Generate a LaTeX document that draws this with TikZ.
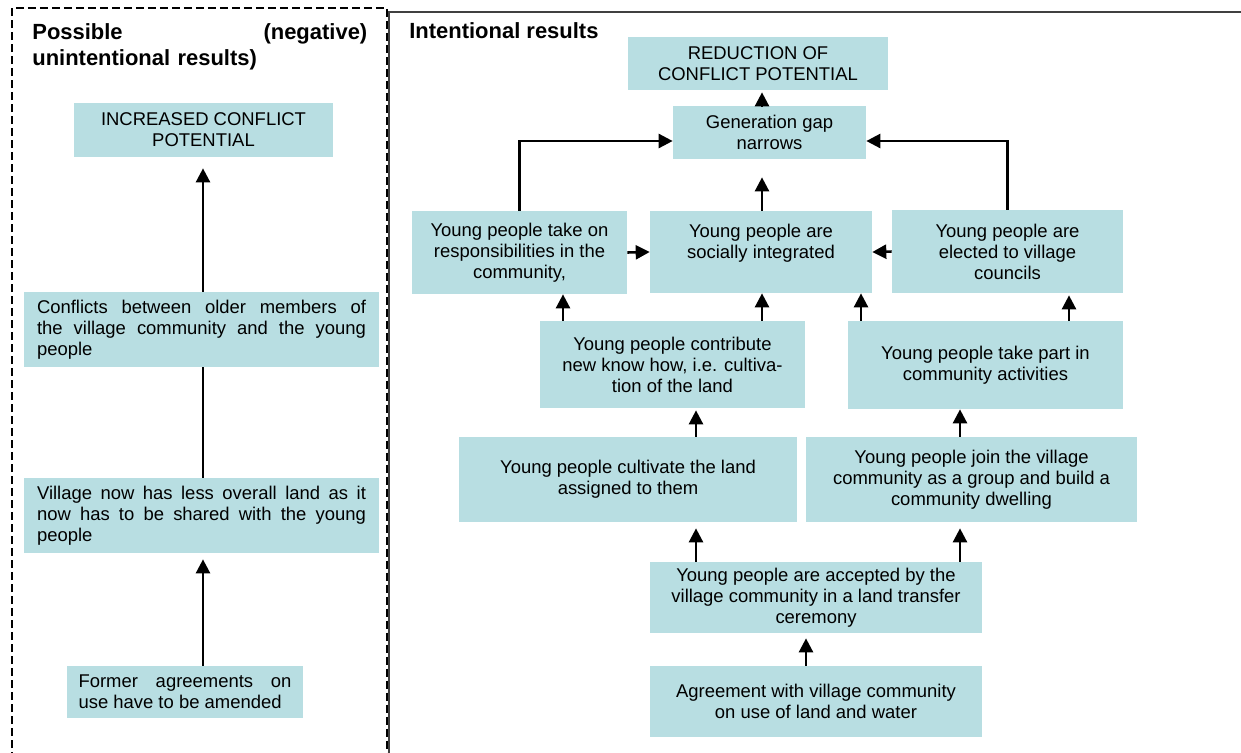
\documentclass[tikz,border=0pt]{standalone}
\usepackage{fontspec}
\setmainfont{Liberation Sans}
\usetikzlibrary{arrows.meta}
\definecolor{boxfill}{RGB}{184,222,226}
\definecolor{framegray}{RGB}{64,64,64}
\hbadness=10000

\begin{document}
\begin{tikzpicture}[x=0.02cm, y=-0.02cm,
    box/.style={fill=boxfill, inner sep=0pt, align=center,
        font=\fontsize{10.5}{12}\selectfont},
    jbox/.style={box, align=justify},
    headtext/.style={inner sep=0pt, font=\fontsize{12.5}{14.8}\selectfont\bfseries},
    arr/.style={line width=1.45pt, -{Triangle[length=0.28cm, width=0.28cm]}},
    link/.style={line width=1.45pt}]
    \useasboundingbox (0,0) rectangle (1241,752);

    \draw[dash pattern=on 0.16cm off 0.08cm, line width=0.8pt] (12,760) -- (12,8) -- (387,8) -- (387,760);
    \draw[framegray, line width=1.1pt] (389,760) -- (389,12) -- (1245,12);

    \node[headtext, text width=6.7cm, align=left, anchor=north west] (ltitle) at (32,23) {Possible\hfill(negative)\\unintentional results)};
    \node[headtext, anchor=base west] (rtitle) at (409,38) {Intentional results};

    % unintentional side
    \node[box, minimum width=5.18cm, minimum height=1.08cm] (incr) at (203.5,130) {INCREASED CONFLICT\\POTENTIAL};
    \node[jbox, minimum width=7.1cm, minimum height=1.5cm, text width=6.58cm] (confl) at (201.5,329.5) {Conflicts between older members of\linebreak the village community and the young\linebreak people};
    \node[jbox, minimum width=7.1cm, minimum height=1.5cm, text width=6.58cm] (vill) at (201.5,515.5) {Village now has less overall land as it\linebreak now has to be shared with the young\linebreak people};
    \node[jbox, minimum width=4.72cm, minimum height=1.04cm, text width=4.26cm] (former) at (185,692) {Former agreements on\linebreak use have to be amended};

    % intentional side
    \node[box, minimum width=5.2cm, minimum height=1.06cm] (reduc) at (758,63.5) {REDUCTION OF\\CONFLICT POTENTIAL};
    \node[box, minimum width=3.86cm, minimum height=1.06cm] (gap) at (769.5,132.5) {Generation gap\\narrows};
    \node[box, minimum width=4.3cm, minimum height=1.66cm] (resp) at (519.5,252.5) {Young people take on\\responsibilities in the\\community,};
    \node[box, minimum width=4.44cm, minimum height=1.64cm] (integ) at (761,252) {Young people are\\socially integrated\\\mbox{}};
    \node[box, minimum width=4.62cm, minimum height=1.66cm] (elect) at (1007.5,251.5) {Young people are\\elected to village\\councils};
    \node[box, minimum width=5.3cm, minimum height=1.74cm] (contrib) at (672.5,364.5) {Young people contribute\\new know how, i.e. cultiva-\\tion of the land};
    \node[box, minimum width=5.5cm, minimum height=1.76cm] (part) at (985.5,365) {Young people take part in\\community activities};
    \node[box, minimum width=6.76cm, minimum height=1.7cm] (cultiv) at (628,479.5) {Young people cultivate the land\\assigned to them};
    \node[box, minimum width=6.62cm, minimum height=1.7cm] (join) at (971.5,479.5) {Young people join the village\\community as a group and build a\\community dwelling};
    \node[box, minimum width=6.64cm, minimum height=1.42cm] (accept) at (816,597.5) {Young people are accepted by the\\village community in a land transfer\\ceremony};
    \node[box, minimum width=6.64cm, minimum height=1.42cm] (agree) at (816,701.5) {Agreement with village community\\on use of land and water};

    \coordinate (cl) at (203,0);
    \coordinate (c1) at (563,0);
    \coordinate (c2) at (696,0);
    \coordinate (c3) at (762,0);
    \coordinate (c4) at (806,0);
    \coordinate (c5) at (861,0);
    \coordinate (c6) at (960,0);
    \coordinate (c7) at (1069,0);
    \coordinate (hy) at (0,141);

    \draw[arr, shorten >=0.12cm] (former.north -| cl) -- (vill.south -| cl);
    \draw[link] (vill.north -| cl) -- (confl.south -| cl);
    \draw[arr, shorten >=0.22cm] (confl.north -| cl) -- (incr.south -| cl);

    \draw[arr, shorten >=0.1cm] (agree.north -| c4) -- (accept.south -| c4);
    \draw[arr, shorten >=0.12cm] (accept.north -| c2) -- (cultiv.south -| c2);
    \draw[arr, shorten >=0.12cm] (accept.north -| c6) -- (join.south -| c6);
    \draw[arr, shorten >=0.04cm] (cultiv.north -| c2) -- (contrib.south -| c2);
    \draw[arr] (join.north -| c6) -- (part.south -| c6);
    \draw[arr] (contrib.north -| c1) -- (resp.south -| c1);
    \draw[arr] (contrib.north -| c3) -- (integ.south -| c3);
    \draw[arr] (part.north -| c5) -- (integ.south -| c5);
    \draw[arr, shorten >=0.04cm] (part.north -| c7) -- (elect.south -| c7);
    \draw[arr] (resp.east) -- (integ.west);
    \draw[arr] (elect.west) -- (integ.east);
    \draw[arr, shorten >=0.36cm] (integ.north -| c3) -- (gap.south -| c3);
    \draw[arr, shorten >=0.04cm] (gap.north -| c3) -- (reduc.south -| c3);
    \draw[arr] (resp.north) |- (gap.west |- hy);
    \draw[arr] (elect.north) |- (gap.east |- hy);
\end{tikzpicture}
\end{document}
